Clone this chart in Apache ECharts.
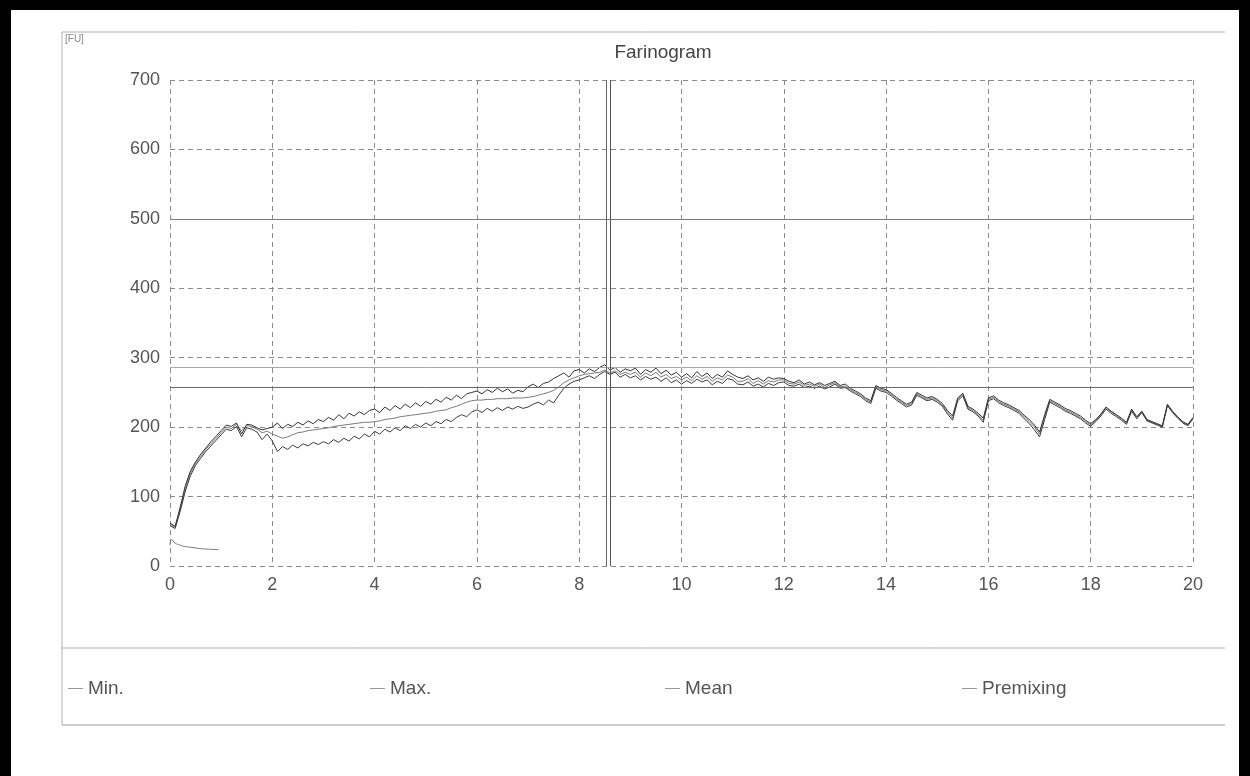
<!DOCTYPE html>
<html>
<head>
<meta charset="utf-8">
<script src="https://cdn.jsdelivr.net/npm/echarts@6/dist/echarts.min.js"></script>
<style>
html,body{margin:0;padding:0;background:#fff;}
#c{width:1250px;height:776px;}
</style>
</head>
<body>
<div id="c"></div>
<script>
// Time step of the sampled curves (min)
const STEP = 0.1;
const xTicks = [0, 2, 4, 6, 8, 10, 12, 14, 16, 18, 20];
const yTicks = [0, 100, 200, 300, 400, 500, 600, 700];

const maxValues = [
  62,57,85,116,137,150,161,170,179,187, 195,203,201,206,190,204,203,199,196,198,
  200,206,198,204,201,207,203,209,205,211,
  208,214,210,218,212,220,216,222,218,224,
  226,221,229,224,231,226,233,228,235,230,
  237,233,240,236,243,239,246,241,248,250,
  252,248,254,250,256,251,255,249,253,251,
  258,262,257,263,265,270,274,278,272,281,
  283,278,284,280,286,290,282,286,279,284,
  281,285,276,283,279,285,277,282,275,279,
  272,277,271,280,273,278,270,276,272,281,
  276,272,270,274,268,271,266,272,269,271,
  270,266,264,268,262,265,261,264,260,263,
  266,260,262,256,252,248,242,238,260,256,
  254,249,243,238,233,236,250,246,242,244,
  240,234,224,216,242,249,230,226,220,213,
  242,245,239,235,232,228,224,217,211,203,
  193,218,240,236,232,227,224,220,216,210,
  205,211,219,229,223,218,213,207,226,215,
  223,211,208,205,202,233,223,215,208,204,214
];
const meanValues = [
  60,56,82,112,134,148,158,168,176,184, 192,200,198,204,195,202,201,197,192,194,
  190,187,184,186,189,192,193,195,196,197,
  198,199,201,202,203,204,205,206,207,207,
  208,209,211,212,213,215,216,217,218,219,
  220,221,223,224,225,228,230,233,236,238,
  239,239,240,240,241,241,241,242,242,242,
  243,244,246,248,250,253,258,264,268,271,
  274,276,277,278,279,282,278,281,276,279,
  276,279,272,278,274,279,272,276,270,273,
  268,272,267,274,269,273,266,271,268,275,
  272,266,266,270,263,267,262,267,265,268,
  268,263,262,265,260,262,259,262,257,261,
  264,258,259,254,250,246,240,236,258,254,
  252,247,241,236,231,234,248,244,240,242,
  238,232,222,213,240,247,228,224,218,210,
  240,243,237,233,230,226,222,215,208,200,
  190,215,238,234,230,225,222,218,214,208,
  203,210,218,228,222,217,212,206,225,214,
  222,210,207,204,201,232,222,214,207,203,213
];
const minValues = [
  58,54,79,108,130,145,155,165,173,181, 189,197,195,201,186,199,197,193,182,190,
  180,165,172,168,174,170,176,173,178,175,
  179,176,182,178,184,180,187,183,190,186,
  194,190,197,193,199,195,202,198,204,200,
  206,202,208,205,211,208,214,218,215,222,
  225,221,227,223,228,224,229,226,230,227,
  229,233,236,232,239,235,246,256,262,266,
  268,271,274,270,276,280,276,279,272,276,
  271,274,268,273,269,272,266,271,264,268,
  262,267,263,269,265,268,261,266,263,270,
  268,262,261,265,259,262,258,263,260,264,
  265,260,259,262,257,259,256,259,255,258,
  262,256,257,252,248,244,238,234,256,252,
  250,245,239,234,229,232,246,242,238,240,
  236,230,219,210,238,245,226,222,216,207,
  238,241,235,231,228,224,220,212,205,196,
  186,211,236,232,228,223,220,216,212,206,
  201,208,216,226,220,215,210,204,223,212,
  221,209,206,203,200,231,221,213,206,202,212
];
const premixTimes  = [0, 0.03, 0.1, 0.2, 0.3, 0.4, 0.5, 0.6, 0.7, 0.8, 0.95];
const premixValues = [30, 38, 33, 30, 28, 27, 26, 25, 24.5, 24, 23.5];

// Evaluation markers
const peakTimeLines = [8.52, 8.6];
const refLevels = [500, 286, 258];

function pairs(vals) { return vals.map((v, i) => [+(i * STEP).toFixed(2), v]); }

const chart = echarts.init(document.getElementById('c'), null, {renderer: 'canvas'});
const FONT = '"Liberation Sans", Arial, sans-serif';

const legendBase = {
  orient: 'horizontal', top: 679, icon: 'rect', itemWidth: 15, itemHeight: 1,
  itemGap: 6, padding: 0, itemStyle: {color: '#9a9a9a', borderWidth: 0},
  textStyle: {fontFamily: FONT, fontSize: 19, color: '#555', padding: [0, 0, 0, 0]},
  selectedMode: false
};

const option = {
  backgroundColor: '#ffffff',
  animation: false,
  grid: {left: 170, right: 57, top: 80, bottom: 210},
  xAxis: {
    type: 'value', min: 0, max: 20, interval: 2,
    axisLine: {show: false},
    axisTick: {show: false},
    axisLabel: {fontFamily: FONT, fontSize: 18, color: '#555', margin: 10,
      formatter: v => xTicks.includes(v) ? String(v) : ''},
    splitLine: {show: true, lineStyle: {color: '#8a8a8a', type: [5, 4], width: 1}}
  },
  yAxis: {
    type: 'value', min: 0, max: 700, interval: 100,
    axisLine: {show: false},
    axisTick: {show: false},
    axisLabel: {fontFamily: FONT, fontSize: 18, color: '#555', margin: 10,
      formatter: v => yTicks.includes(v) ? String(v) : ''},
    splitLine: {show: true, lineStyle: {color: '#8a8a8a', type: [5, 4], width: 1}}
  },
  legend: [
    Object.assign({}, legendBase, {left: 68, data: ['Min.']}),
    Object.assign({}, legendBase, {left: 370, data: ['Max.']}),
    Object.assign({}, legendBase, {left: 665, data: ['Mean']}),
    Object.assign({}, legendBase, {left: 962, data: ['Premixing']})
  ],
  graphic: [
    // scanned page frame
    {type: 'rect', shape: {x: 0, y: 0, width: 1250, height: 10}, style: {fill: '#000'}, z: 100},
    {type: 'rect', shape: {x: 0, y: 0, width: 11, height: 776}, style: {fill: '#000'}, z: 100},
    {type: 'rect', shape: {x: 1239, y: 0, width: 11, height: 776}, style: {fill: '#000'}, z: 100},
    // report box
    {type: 'line', shape: {x1: 62, y1: 32, x2: 1225, y2: 32}, style: {stroke: '#b0b0b0', lineWidth: 1}},
    {type: 'line', shape: {x1: 62, y1: 32, x2: 62, y2: 725}, style: {stroke: '#b0b0b0', lineWidth: 1}},
    {type: 'line', shape: {x1: 62, y1: 648, x2: 1225, y2: 648}, style: {stroke: '#b0b0b0', lineWidth: 1}},
    {type: 'line', shape: {x1: 62, y1: 725, x2: 1225, y2: 725}, style: {stroke: '#9a9a9a', lineWidth: 1}},
    {type: 'text', left: 65, top: 34, style: {text: '[FU]', font: '10px ' + FONT, fill: '#888'}},
    {type: 'text', x: 663, y: 53, style: {text: 'Farinogram', font: '19px ' + FONT, fill: '#444', align: 'center', verticalAlign: 'middle'}}
  ],
  series: [
    {
      name: 'Min.', type: 'line', data: pairs(minValues), symbol: 'none', showSymbol: false,
      lineStyle: {color: '#3c3c3c', width: 1}, itemStyle: {color: '#3c3c3c'}, z: 3,
      markLine: {
        silent: true, symbol: 'none', label: {show: false},
        data: [
          [{coord: [0, refLevels[0]], lineStyle: {color: '#7a7a7a', width: 1, type: 'solid'}}, {coord: [20, refLevels[0]]}],
          [{coord: [0, refLevels[1]], lineStyle: {color: '#a8a8a8', width: 1, type: 'solid'}}, {coord: [20, refLevels[1]]}],
          [{coord: [0, refLevels[2]], lineStyle: {color: '#6a6a6a', width: 1, type: 'solid'}}, {coord: [20, refLevels[2]]}],
          [{coord: [peakTimeLines[0], 0], lineStyle: {color: '#666', width: 1, type: 'solid'}}, {coord: [peakTimeLines[0], 700]}],
          [{coord: [peakTimeLines[1], 0], lineStyle: {color: '#555', width: 1, type: 'solid'}}, {coord: [peakTimeLines[1], 700]}]
        ]
      }
    },
    {
      name: 'Max.', type: 'line', data: pairs(maxValues), symbol: 'none', showSymbol: false,
      lineStyle: {color: '#333', width: 1}, itemStyle: {color: '#333'}, z: 3
    },
    {
      name: 'Mean', type: 'line', data: pairs(meanValues), symbol: 'none', showSymbol: false,
      lineStyle: {color: '#7a7a7a', width: 1}, itemStyle: {color: '#7a7a7a'}, z: 2
    },
    {
      name: 'Premixing', type: 'line', data: premixTimes.map((t, i) => [t, premixValues[i]]),
      symbol: 'none', showSymbol: false, smooth: true,
      lineStyle: {color: '#777', width: 1}, itemStyle: {color: '#777'}, z: 2
    }
  ]
};
chart.setOption(option);
</script>
</body>
</html>
